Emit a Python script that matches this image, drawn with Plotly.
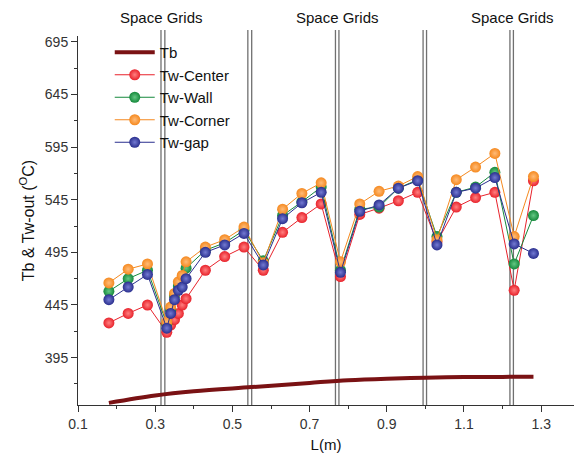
import plotly.graph_objects as go

L = [0.18, 0.23, 0.28, 0.33, 0.34, 0.35, 0.36, 0.37, 0.38, 0.43, 0.48, 0.53,
     0.58, 0.63, 0.68, 0.73, 0.78, 0.83, 0.88, 0.93, 0.98, 1.03, 1.08, 1.13,
     1.18, 1.23, 1.28]
tw_center = [428, 437, 445, 419, 426, 431, 437, 445, 451, 478, 491, 500,
             478, 514, 528, 541, 472, 531, 537, 544, 552, 505, 538, 547,
             552, 459, 563]
tw_wall = [458, 470, 478, 427, 440, 454, 463, 470, 480, 497, 504, 516,
           487, 530, 543, 557, 478, 536, 538, 556, 564, 510, 552, 557,
           571, 484, 530]
tw_corner = [466, 479, 484, 429, 443, 456, 467, 473, 486, 500, 507, 519,
             485, 536, 551, 561, 486, 541, 553, 558, 567, 507, 564, 576,
             589, 510, 567]
tw_gap = [450, 462, 474, 423, 437, 450, 459, 462, 470, 495, 502, 513,
          483, 527, 542, 552, 476, 534, 540, 556, 563, 502, 552, 556,
          566, 503, 494]

tb_L = [0.18, 0.3, 0.4, 0.55, 0.7, 0.8, 0.9, 1.0, 1.1, 1.2, 1.28]
tb = [352, 359, 363, 367, 371, 373.5, 375, 376, 376.5, 376.7, 376.8]

grid_pairs = [(0.315, 0.325), (0.540, 0.550), (0.767, 0.776), (0.994, 1.003), (1.219, 1.228)]
grid_label_x = [0.316, 0.771, 1.226]

FONT = "Liberation Sans, Arial, sans-serif"

fig = go.Figure()
fig.add_trace(go.Scatter(x=tb_L, y=tb, mode="lines", name="Tb",
                         line=dict(color="#7a1214", width=4, shape="spline")))

series = [
    ("Tw-Center", tw_center, "#e8222b", "#ff8080"),
    ("Tw-Wall", tw_wall, "#16893c", "#64c884"),
    ("Tw-Corner", tw_corner, "#f5891f", "#ffbb78"),
    ("Tw-gap", tw_gap, "#2a2f8e", "#737ad2"),
]
for name, ys, col, light in series:
    fig.add_trace(go.Scatter(
        x=L, y=ys, mode="lines+markers", name=name,
        line=dict(color=col, width=1),
        marker=dict(color=col, size=11, line=dict(width=0),
                    gradient=dict(type="radial", color=light)),
    ))

for a, b in grid_pairs:
    for xv in (a, b):
        fig.add_shape(type="line", x0=xv, x1=xv, xref="x", yref="paper",
                      y0=0, y1=1.016, line=dict(color="#707070", width=1.3),
                      layer="below")

for xv in grid_label_x:
    fig.add_annotation(x=xv, xref="x", y=1.049, yref="paper", text="Space Grids",
                       showarrow=False, font=dict(size=15, color="#111", family=FONT),
                       yanchor="middle", xanchor="center")

fig.update_layout(
    width=576, height=461,
    margin=dict(l=78, r=2, t=36, b=56, autoexpand=False),
    paper_bgcolor="white", plot_bgcolor="white",
    font=dict(family=FONT, color="#222"),
    showlegend=True,
    legend=dict(x=0.064, y=1.0, xanchor="left", yanchor="top",
                bgcolor="rgba(0,0,0,0)", font=dict(size=15, color="#111", family=FONT),
                tracegroupgap=0, itemwidth=40),
    xaxis=dict(range=[0.1, 1.385], tickmode="array",
               tickvals=[0.1, 0.3, 0.5, 0.7, 0.9, 1.1, 1.3],
               ticktext=["0.1", "0.3", "0.5", "0.7", "0.9", "1.1", "1.3"],
               ticks="outside", ticklen=6, tickcolor="#333",
               showline=True, linecolor="#333", linewidth=1,
               showgrid=False, zeroline=False, automargin=False,
               minor=dict(tickvals=[0.2, 0.4, 0.6, 0.8, 1.0, 1.2], ticks="outside",
                          ticklen=3, tickcolor="#333", showgrid=False),
               tickfont=dict(size=14, color="#333"),
               title=dict(text="L(m)", font=dict(size=15, color="#111"), standoff=8)),
    yaxis=dict(range=[350, 700.5], tick0=395, dtick=50,
               ticks="outside", ticklen=6, tickcolor="#333",
               showline=True, linecolor="#333", linewidth=1,
               showgrid=False, zeroline=False, automargin=False,
               minor=dict(tick0=370, dtick=50, ticks="outside", ticklen=3,
                          tickcolor="#333", showgrid=False),
               tickfont=dict(size=14, color="#333"),
               title=dict(text="Tb & Tw-out (<sup>O</sup>C)", font=dict(size=16, color="#111"),
                          standoff=6)),
)

fig.write_html("out.html", config={"displayModeBar": False},
               post_script="document.body.style.margin='0';document.body.style.padding='0';")
